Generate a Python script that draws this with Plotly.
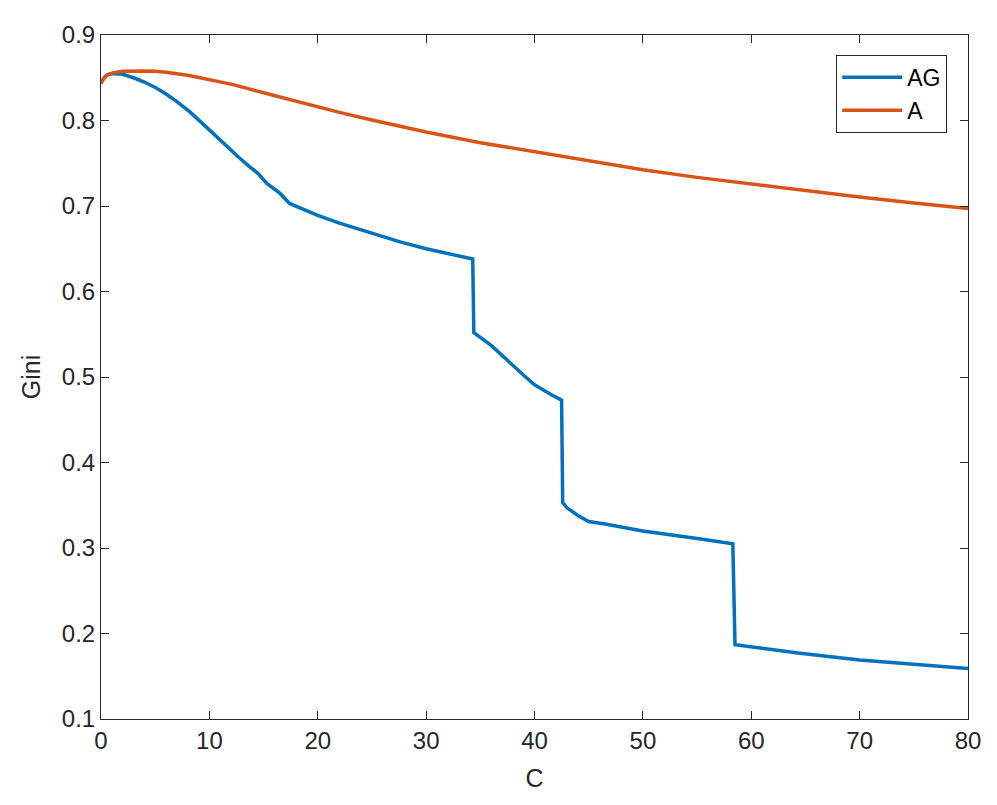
import plotly.graph_objects as go


BLUE = "#0072BD"
ORANGE = "#D95319"
AXIS_COLOR = "#262626"

# AG curve (with sharp drops)
ag_c = [0, 0.5, 1, 2, 3, 4, 5.1, 6, 7, 8.2, 10, 11.9, 12.7, 13.7, 14.5, 15.3, 16.5,
        17.4, 20, 22, 25, 27.6, 30, 34.3, 34.4, 36, 39, 40, 41.6, 42.5, 42.6, 43, 44,
        45, 46.5, 50, 55, 58.3, 58.5, 64.5, 70, 80]
ag_gini = [0.845, 0.853, 0.855, 0.854, 0.850, 0.845, 0.838, 0.831, 0.822, 0.810, 0.789,
           0.7655, 0.757, 0.746, 0.738, 0.7265, 0.715, 0.703, 0.689, 0.680, 0.668, 0.658,
           0.650, 0.638, 0.552, 0.537, 0.502, 0.491, 0.479, 0.473, 0.353, 0.347, 0.338,
           0.331, 0.328, 0.320, 0.311, 0.305, 0.187, 0.177, 0.169, 0.159]

# A curve (smooth)
a_c = [0, 0.3, 0.7, 1.2, 2, 3, 4, 5, 6, 8, 10, 12, 15, 18, 20, 22, 25, 28, 30, 35,
       40, 45, 50, 55, 60, 65, 70, 75, 80]
a_gini = [0.843, 0.850, 0.854, 0.856, 0.8575, 0.858, 0.858, 0.8575, 0.8565, 0.853, 0.848,
          0.8425, 0.8325, 0.8225, 0.816, 0.8095, 0.8005, 0.792, 0.7865, 0.774, 0.7635,
          0.753, 0.7425, 0.7335, 0.7255, 0.718, 0.7105, 0.7035, 0.697]

x_ticks = [0, 10, 20, 30, 40, 50, 60, 70, 80]
y_ticks = [0.1, 0.2, 0.3, 0.4, 0.5, 0.6, 0.7, 0.8, 0.9]

fig = go.Figure()
fig.add_trace(go.Scatter(x=ag_c, y=ag_gini, name="AG", mode="lines",
                         line={"color": BLUE, "width": 3.5}))
fig.add_trace(go.Scatter(x=a_c, y=a_gini, name="A", mode="lines",
                         line={"color": ORANGE, "width": 3.5}))

axis_style = dict(
    showline=True,
    linecolor=AXIS_COLOR,
    linewidth=1,
    mirror="ticks",
    ticks="inside",
    ticklen=8,
    tickcolor=AXIS_COLOR,
    showgrid=False,
    zeroline=False,
    tickfont={"size": 24, "color": AXIS_COLOR},
)

fig.update_xaxes(range=[0, 80], tickvals=x_ticks,
                 title={"text": "C", "font": {"size": 25}, "standoff": 16}, **axis_style)
fig.update_yaxes(range=[0.1, 0.9], tickvals=y_ticks, tickformat=".1f",
                 title={"text": "Gini", "font": {"size": 25}, "standoff": 14}, **axis_style)

fig.update_layout(
    width=997,
    height=805,
    margin={"l": 93, "r": 37, "t": 27, "b": 94},
    paper_bgcolor="white",
    plot_bgcolor="white",
    font={"family": "Arial, Liberation Sans, sans-serif", "color": AXIS_COLOR},
    legend={
        "x": 0.976,
        "y": 0.971,
        "xanchor": "right",
        "yanchor": "top",
        "bordercolor": AXIS_COLOR,
        "borderwidth": 1,
        "bgcolor": "white",
        "font": {"size": 23, "color": "#000000"},
        "itemwidth": 60,
    },
)

fig.write_html("out.html")
